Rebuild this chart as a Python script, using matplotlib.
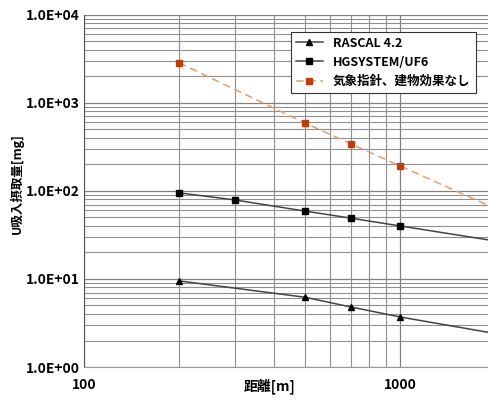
import matplotlib
matplotlib.use("Agg")
import matplotlib.pyplot as plt
from matplotlib.ticker import LogLocator, FuncFormatter, NullFormatter

plt.rcParams['font.family'] = ['Noto Sans CJK JP', 'DejaVu Sans']

# distances [m]
rascal_x = [200, 500, 700, 1000, 2000]
rascal_y = [9.5, 6.2, 4.8, 3.7, 2.4]

hg_x = [200, 300, 500, 700, 1000, 2000]
hg_y = [95, 79, 59, 49, 40, 27]

guide_x = [200, 500, 700, 1000, 2000]
guide_y = [2850, 590, 342, 192, 63]

labels = ['RASCAL 4.2', 'HGSYSTEM/UF6', '気象指針、建物効果なし']

fig = plt.figure(figsize=(4.88, 4.03), dpi=100)
ax = fig.add_axes([0.172, 0.0893, 0.828, 0.874])

ax.plot(rascal_x, rascal_y, color='#444444', lw=1.1, marker='^', ms=5,
        mfc='black', mec='black', label=labels[0], zorder=3)
ax.plot(hg_x, hg_y, color='#444444', lw=1.1, marker='s', ms=5,
        mfc='black', mec='black', label=labels[1], zorder=3)
ax.plot(guide_x, guide_y, color='#e0a070', lw=1.1, ls=(0, (5, 3)), marker='s', ms=5,
        mfc='#b84010', mec='#b84010', label=labels[2], zorder=3)

ax.set_xscale('log')
ax.set_yscale('log')
ax.set_xlim(100, 1897)
ax.set_ylim(1, 1e4)

ax.xaxis.set_major_locator(LogLocator(base=10))
ax.xaxis.set_minor_locator(LogLocator(base=10, subs=range(2, 10)))
ax.xaxis.set_minor_formatter(NullFormatter())
ax.xaxis.set_major_formatter(FuncFormatter(lambda v, p: f"{v:.0f}"))
ax.yaxis.set_major_locator(LogLocator(base=10))
ax.yaxis.set_minor_locator(LogLocator(base=10, subs=range(2, 10)))
ax.yaxis.set_minor_formatter(NullFormatter())
ax.yaxis.set_major_formatter(FuncFormatter(lambda v, p: f"{v:.1E}"))

ax.grid(True, which='major', color='#808080', lw=0.9)
ax.grid(True, which='minor', color='#909090', lw=0.8)
ax.tick_params(which='both', length=0, labelsize=10)
ax.tick_params(axis='x', pad=8)
ax.tick_params(axis='y', pad=3)
for t in ax.get_xticklabels() + ax.get_yticklabels():
    t.set_fontweight('bold')

for s in ['top', 'right']:
    ax.spines[s].set_visible(False)
ax.spines['left'].set_color('#555555')
ax.spines['bottom'].set_color('#999999')

ax.set_xlabel('距離[m]', fontsize=10, fontweight='bold')
ax.xaxis.set_label_coords(0.46, -0.055)
ax.xaxis.label.set_va('center')
ax.set_ylabel('U吸入摂取量[mg]', fontsize=9, fontweight='bold')
ax.yaxis.set_label_coords(-0.148, 0.52)

leg = ax.legend(loc='upper right', bbox_to_anchor=(0.985, 0.97),
                prop={'weight': 'bold', 'size': 9}, frameon=True, fancybox=False,
                edgecolor='#333333', framealpha=1, handlelength=2.2,
                borderpad=0.4, labelspacing=0.5)
leg.get_frame().set_linewidth(0.8)

fig.savefig('out.png', dpi=100)
